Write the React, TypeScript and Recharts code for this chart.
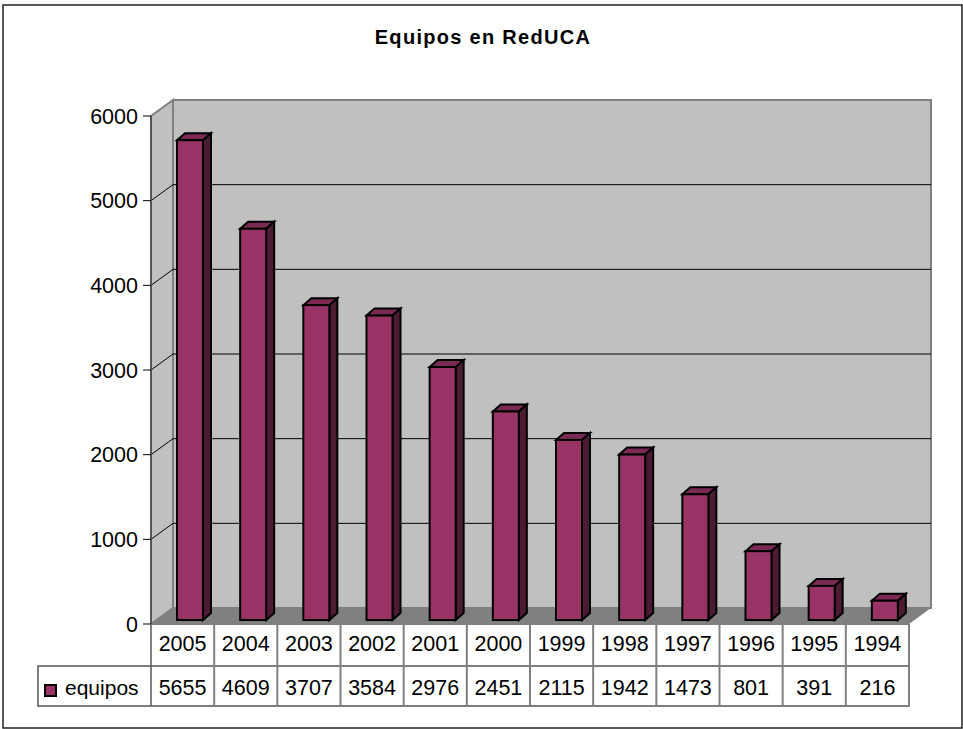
import { Bar, BarChart, CartesianGrid, XAxis, YAxis } from "recharts";

const years = ["2005", "2004", "2003", "2002", "2001", "2000", "1999", "1998", "1997", "1996", "1995", "1994"];
const equipos = [5655, 4609, 3707, 3584, 2976, 2451, 2115, 1942, 1473, 801, 391, 216];
const yTicks = [0, 1000, 2000, 3000, 4000, 5000, 6000];
const seriesName = "equipos";
const title = "Equipos en RedUCA";

const data = years.map((year, i) => ({ year, equipos: equipos[i] }));

const FONT = "'Liberation Sans', Arial, sans-serif";
const W = 963;
const H = 729;
const LEFT = 151;
const RIGHT = 909;
const TOP = 116;
const BOTTOM = 624;
const WALL_DX = 22;
const WALL_DY = 16;
const ROW1 = 42;
const ROW2 = 40;
const TABLE_LEFT = 38;
const EDGE = "#808080";

// back wall, side wall and floor sit under the transparent chart
function Walls() {
  const dx = WALL_DX;
  const dy = WALL_DY;
  return (
    <svg width={W} height={H} style={{ position: "absolute", left: 0, top: 0 }}>
      <rect x={3} y={5} width={959} height={723} fill="#fff" stroke="#222" strokeWidth={1.5} />
      <polygon points={`${LEFT},${TOP} ${LEFT + dx},${TOP - dy} ${LEFT + dx},${BOTTOM - dy} ${LEFT},${BOTTOM}`} fill="#c0c0c0" stroke={EDGE} strokeWidth={2} />
      <polygon points={`${LEFT + dx},${TOP - dy} ${RIGHT + dx},${TOP - dy} ${RIGHT + dx},${BOTTOM - dy} ${LEFT + dx},${BOTTOM - dy}`} fill="#c0c0c0" stroke={EDGE} strokeWidth={2} />
      <polygon points={`${LEFT},${BOTTOM} ${LEFT + dx},${BOTTOM - dy} ${RIGHT + dx},${BOTTOM - dy} ${RIGHT},${BOTTOM}`} fill="#808080" />
      <line x1={LEFT} y1={BOTTOM} x2={RIGHT} y2={BOTTOM} stroke={EDGE} strokeWidth={2} />
    </svg>
  );
}

function gridLine(props: any) {
  const { x1, x2, y1, index } = props;
  // top and bottom are the wall edges and the floor
  if (Math.abs(y1 - BOTTOM) < 1 || Math.abs(y1 - TOP) < 1) return <g key={index} />;
  return <polyline key={index} points={`${x1},${y1} ${x1 + WALL_DX},${y1 - WALL_DY} ${x2 + WALL_DX},${y1 - WALL_DY}`} fill="none" stroke="#000" strokeWidth={1} />;
}

function Bar3D({ x, y, width, height }: any) {
  const fx = x + 7;
  const fy = y - 5;
  const d = 8;
  const t = 7;
  const bottom = y + height - 4;
  return (
    <g stroke="#000" strokeWidth={2} strokeLinejoin="miter">
      <polygon points={`${fx},${fy} ${fx + d},${fy - t} ${fx + width + d},${fy - t} ${fx + width},${fy}`} fill="#7a2952" />
      <polygon points={`${fx + width},${fy} ${fx + width + d},${fy - t} ${fx + width + d},${bottom - t} ${fx + width},${bottom}`} fill="#4d1a33" />
      <rect x={fx} y={fy} width={width} height={bottom - fy} fill="#993366" />
    </g>
  );
}

function TableTick({ x, y, index, payload, cellWidth }: any) {
  const left = x - cellWidth / 2;
  return (
    <g fontFamily={FONT} fontSize={21.5} fill="#000" textAnchor="middle">
      <line x1={left + cellWidth} y1={y} x2={left + cellWidth} y2={y + ROW1 + ROW2} stroke={EDGE} strokeWidth={2} />
      <text x={x} y={y + 27} fill="#000">{payload.value}</text>
      <text x={x} y={y + ROW1 + 29} fill="#000">{equipos[index]}</text>
    </g>
  );
}

function TableFrame() {
  const b = BOTTOM;
  return (
    <g fontFamily={FONT}>
      <line x1={LEFT} y1={b} x2={LEFT} y2={b + ROW1 + ROW2} stroke={EDGE} strokeWidth={2} />
      <rect x={TABLE_LEFT} y={b + ROW1} width={RIGHT - TABLE_LEFT} height={ROW2} fill="none" stroke="#555" strokeWidth={1.5} />
      <rect x={45} y={b + ROW1 + 19} width={11} height={11} fill="#993366" stroke="#000" strokeWidth={2} />
      <text x={65} y={b + ROW1 + 29} fontSize={21} fill="#000">{seriesName}</text>
    </g>
  );
}

export default function App() {
  return (
    <div style={{ position: "absolute", left: 0, top: 0, width: W, height: H, background: "#fff" }}>
      <Walls />
      <div style={{ position: "absolute", left: 0, top: 0 }}>
        <BarChart
          width={W}
          height={H}
          data={data}
          barSize={26}
          margin={{ top: TOP, right: W - RIGHT, left: 0, bottom: 0 }}
        >
          <CartesianGrid vertical={false} horizontal={gridLine} />
          <YAxis
            width={LEFT}
            domain={[0, 6000]}
            ticks={yTicks}
            interval={0}
            tick={{ fontSize: 21.5, fontFamily: FONT, fill: "#000" }}
            tickLine={{ stroke: "#000", strokeWidth: 1 }}
            tickSize={8}
            tickMargin={5}
            axisLine={{ stroke: "#555", strokeWidth: 2 }}
          />
          <XAxis
            dataKey="year"
            height={H - BOTTOM}
            interval={0}
            axisLine={false}
            tickLine={false}
            tick={<TableTick cellWidth={(RIGHT - LEFT) / 12} />}
            tickMargin={0}
            tickSize={0}
          />
          <Bar dataKey="equipos" name={seriesName} isAnimationActive={false} shape={<Bar3D />} />
          <TableFrame />
          <text x={483} y={44} textAnchor="middle" fontFamily={FONT} fontWeight="bold" fontSize={20} letterSpacing={1.3} fill="#000">{title}</text>
        </BarChart>
      </div>
    </div>
  );
}
